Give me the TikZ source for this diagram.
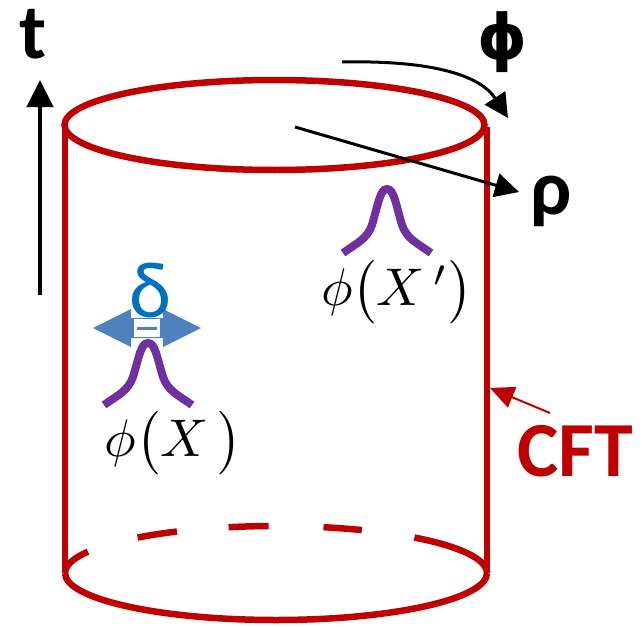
\documentclass[tikz,border=0pt]{standalone}
\usepackage{graphicx}
\usepackage{fontspec}
\newfontfamily\labelfont{Carlito}
\newfontfamily\greekfont{DejaVu Sans}
\usetikzlibrary{arrows.meta}
\definecolor{cftred}{HTML}{C00000}
\definecolor{bumppurple}{HTML}{7030A0}
\definecolor{deltablue}{HTML}{0070C0}
\definecolor{arrowblue}{HTML}{4F81BD}
\begin{document}
\begin{tikzpicture}[x=1pt,y=-1pt,
  redline/.style={draw=cftred, line width=6.5pt},
  bumpline/.style={draw=bumppurple, line width=8pt},
  axisarrow/.style={draw=black, line width=3pt, -{Triangle[length=24pt,width=24pt]}},
  lbl/.style={font=\labelfont\bfseries\fontsize{78}{90}\selectfont, inner sep=0pt},
  formula/.style={inner sep=0pt}]
\useasboundingbox (0,0) rectangle (642,626);
% cylinder
\draw[redline] (274.5,125) ellipse [x radius=210, y radius=45];
\coordinate (tl) at (65,125);
\coordinate (bl) at (65,573);
\coordinate (tr) at (487,127);
\coordinate (br) at (487,573);
\draw[redline] (tl) -- (bl);
\draw[redline] (tr) -- (br);
\coordinate (bc) at (276,573);
\draw[redline] (bl) arc[start angle=180, end angle=0, x radius=211, y radius=47];
\foreach \a/\b in {180/207, 229/242, 257/268, 283/294, 311/360}
  \draw[redline] (bc) ++(\a:211 and 47) arc[start angle=\a, end angle=\b, x radius=211, y radius=47];
% t axis
\coordinate (tbot) at (40,295);
\coordinate (ttop) at (40,80);
\draw[line width=4.5pt, -{Triangle[length=27pt,width=26pt]}] (tbot) -- (ttop);
\node[lbl] (tlab) at (33,34) {t};
% phi axis
\coordinate (phis) at (342,62);
\coordinate (phie) at (508,118);
\draw[axisarrow] (phis) .. controls (440,60) and (482,78) .. (phie);
\node[font=\greekfont\bfseries\fontsize{63}{74}\selectfont, inner sep=0pt] (philab) at (503,42) {ϕ};
% rho axis
\coordinate (rhos) at (295,127);
\coordinate (rhoe) at (519,192);
\draw[axisarrow] (rhos) -- (rhoe);
\node[lbl] (rholab) at (551,201) {ρ};
% CFT
\node[lbl, text=cftred] (cft) at (575,451) {CFT};
\coordinate (cfts) at (550,413);
\coordinate (cfte) at (490,388);
\draw[draw=cftred, line width=2pt, -{Triangle[length=24pt,width=22pt]}] (cfts) -- (cfte);
% bumps
\begin{scope}[shift={(148,405)}]
\draw[bumpline] (-44,0) .. controls (-30,-10) and (-20,-14) .. (-15,-28) .. controls (-9,-48) and (-7,-62) .. (0,-62) .. controls (7,-62) and (9,-48) .. (15,-28) .. controls (20,-14) and (30,-10) .. (44,0);
\end{scope}
\begin{scope}[shift={(387,253)}]
\draw[bumpline] (-44,0) .. controls (-30,-10) and (-20,-14) .. (-15,-28) .. controls (-9,-48) and (-7,-64) .. (0,-64) .. controls (7,-64) and (9,-48) .. (15,-28) .. controls (20,-14) and (30,-10) .. (44,0);
\end{scope}
% double arrow and delta
\fill[arrowblue] (93,328) -- (131,309) -- (131,318) -- (163,318) -- (163,309) -- (201,328) -- (163,347) -- (163,338) -- (131,338) -- (131,347) -- cycle;
\fill[white] (134,319) rectangle (160,337);
\fill[arrowblue] (137,326.5) rectangle (157,329.5);
\node[font=\labelfont\fontsize{80}{90}\selectfont, text=deltablue, inner sep=0pt] (delta) at (150,291) {δ};
% formulas
\node[formula] (fx) at (173,443) {\scalebox{5.3}{$\phi\big(X\,\big)$}};
\node[formula] (fxp) at (397,292) {\scalebox{5.3}{$\phi\big(X\,'\big)$}};
\end{tikzpicture}
\end{document}
